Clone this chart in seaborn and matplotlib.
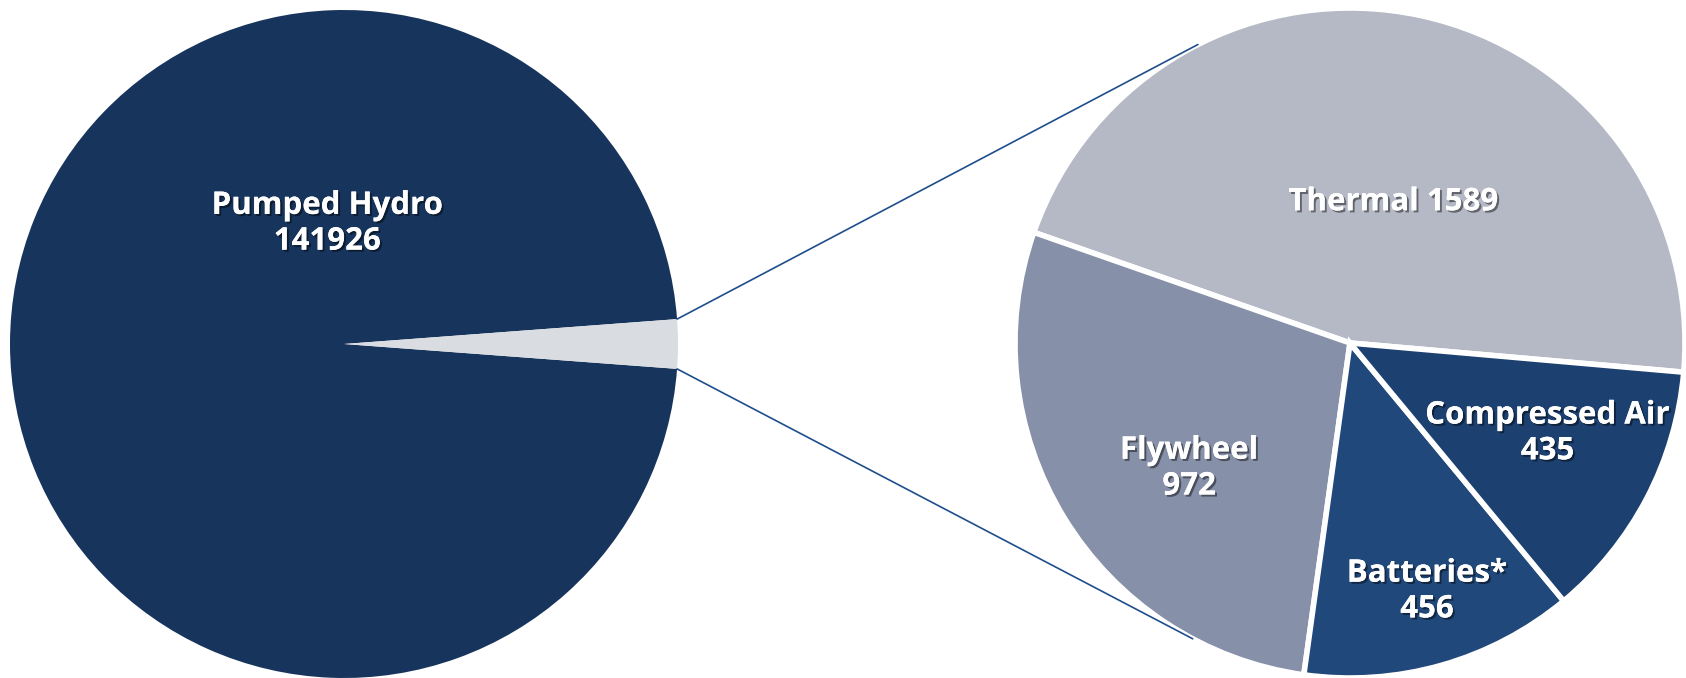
import matplotlib
matplotlib.use("Agg")
import matplotlib.pyplot as plt
import matplotlib.patheffects as pe
from matplotlib.patches import ConnectionPatch
import numpy as np
import seaborn as sns

# ---- data ----
main_labels = ["Pumped Hydro", "Other"]
main_values = [141926, 3452]
detail_labels = ["Thermal", "Flywheel", "Batteries*", "Compressed Air"]
detail_values = [1589, 972, 456, 435]

# ---- style ----
sns.set_theme(style="white")
plt.rcParams["font.family"] = ["Open Sans", "DejaVu Sans"]

main_colors = ["#17355C", "#D9DCE0"]
detail_colors = ["#B5B9C6", "#8690A8", "#21487A", "#1C4070"]

W, H = 1686, 678
fig = plt.figure(figsize=(W / 100, H / 100), dpi=100)
fig.patch.set_facecolor("white")

def add_square_axes(cx, cy, r):
    # cx, cy in pixels from top-left, r radius in pixels
    return fig.add_axes([(cx - r) / W, (H - cy - r) / H, 2 * r / W, 2 * r / H])

ax1 = add_square_axes(344, 344, 334)
ax2 = add_square_axes(1350, 343, 335)

shadow = [pe.withSimplePatchShadow(offset=(1.5, -1.5), shadow_rgbFace="black", alpha=0.45), pe.Normal()]
tkw = dict(color="white", fontsize=22.5, fontweight="bold", ha="center", va="center",
           path_effects=shadow, linespacing=1.25)

# left pie
other_angle = 360 * main_values[1] / sum(main_values)
w1, _ = ax1.pie(main_values, colors=main_colors, startangle=other_angle / 2,
                counterclock=True, radius=1,
                wedgeprops=dict(linewidth=0))
ax1.set_xlim(-1, 1); ax1.set_ylim(-1, 1); ax1.set_aspect("equal"); ax1.axis("off")
ax1.text(-0.05, 0.36, f"{main_labels[0]}\n{main_values[0]}", **tkw)

# right pie
w2, _ = ax2.pie(detail_values, colors=detail_colors, startangle=-5, counterclock=True,
                radius=1, wedgeprops=dict(linewidth=4, edgecolor="white"))
ax2.set_xlim(-1, 1); ax2.set_ylim(-1, 1); ax2.set_aspect("equal"); ax2.axis("off")

label_pos = {"Thermal": (0.13, 0.42), "Flywheel": (-0.48, -0.375),
             "Batteries*": (0.23, -0.742), "Compressed Air": (0.59, -0.27)}
for lab, val in zip(detail_labels, detail_values):
    x, y = label_pos[lab]
    txt = f"{lab} {val}" if lab == "Thermal" else f"{lab}\n{val}"
    ax2.text(x, y, txt, **tkw)

# connector lines
half = np.deg2rad(other_angle / 2)
for a_left, a_right in [(half, np.deg2rad(117)), (-half, np.deg2rad(242))]:
    con = ConnectionPatch(xyA=(np.cos(a_left), np.sin(a_left)), coordsA=ax1.transData,
                          xyB=(np.cos(a_right), np.sin(a_right)), coordsB=ax2.transData,
                          color="#1F4E8C", linewidth=1.2)
    fig.add_artist(con)

fig.savefig("out.png", dpi=100, facecolor="white")
